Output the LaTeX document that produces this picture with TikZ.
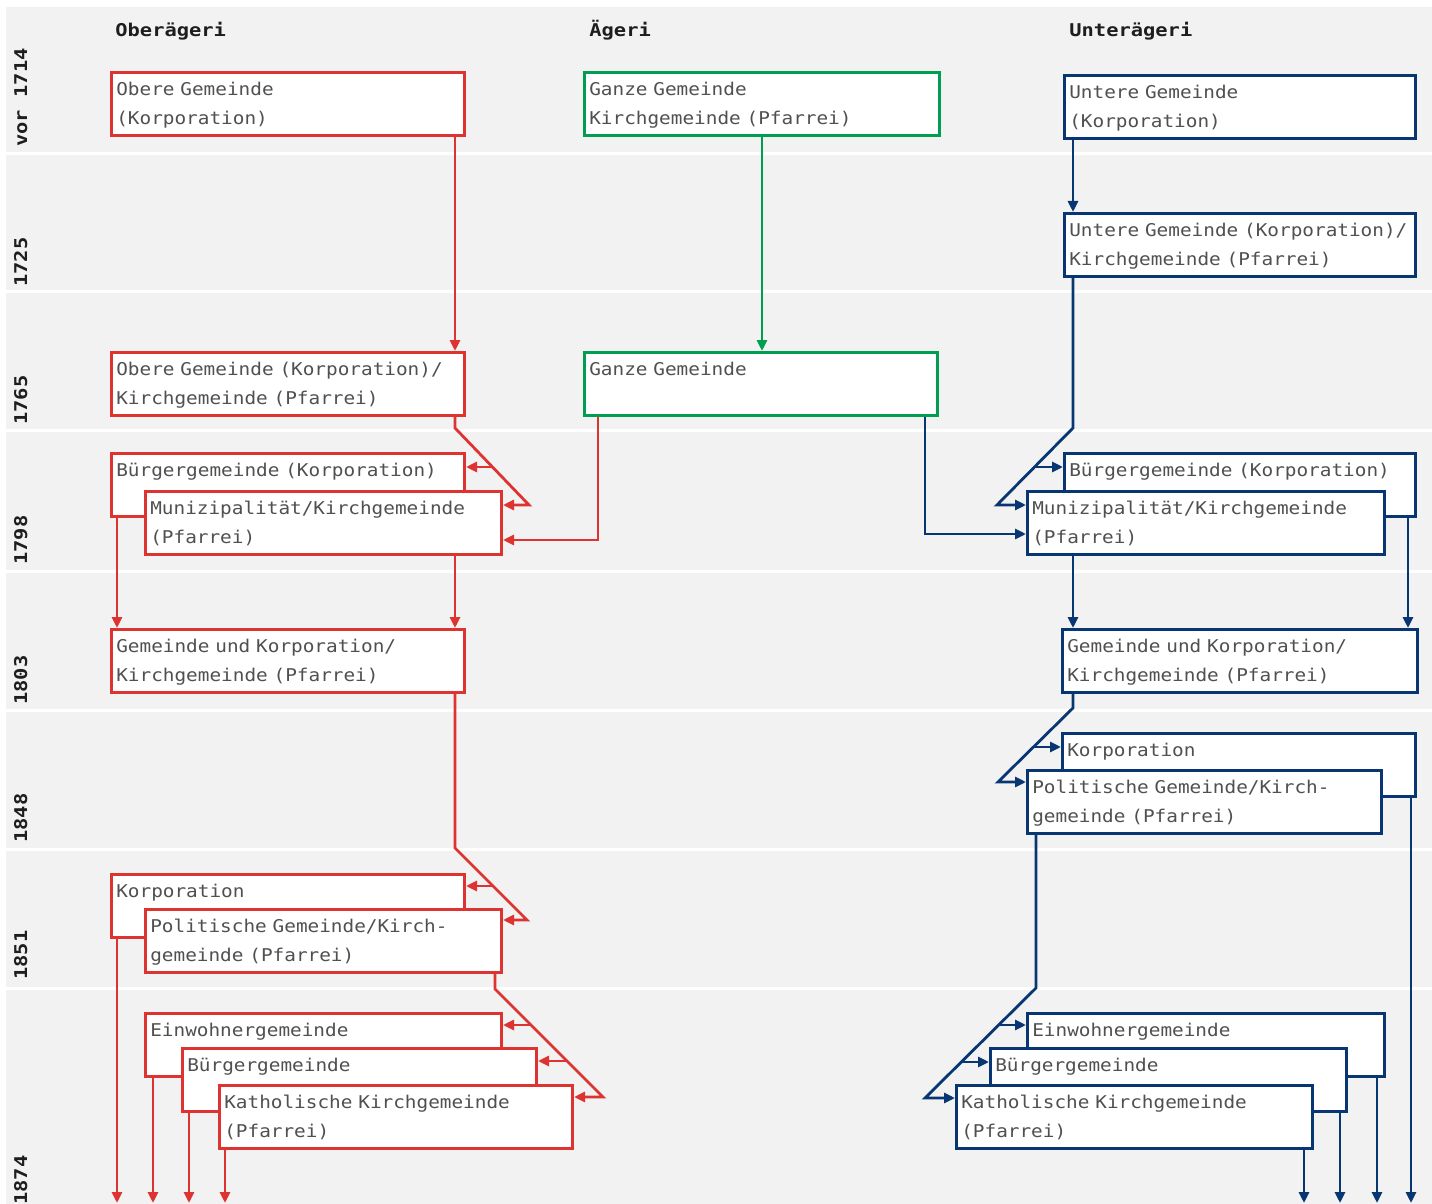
\documentclass[tikz,border=0pt]{standalone}
\usepackage{fontspec}
\usepackage{tikz}
\usetikzlibrary{arrows.meta}
\newfontfamily\boxfont[FakeStretch=1.1]{DejaVu Sans Mono}
\newfontfamily\labfont[FakeStretch=1.16]{DejaVu Sans Mono}
\definecolor{obred}{RGB}{221,52,50}
\definecolor{aegreen}{RGB}{0,158,80}
\definecolor{unblue}{RGB}{8,54,114}
\definecolor{bandgray}{RGB}{242,242,242}
\definecolor{textgray}{RGB}{80,80,80}
\definecolor{headgray}{RGB}{30,30,30}

\begin{document}
\begin{tikzpicture}[
    x=0.5pt, y=-0.5pt,
    box/.style={draw, fill=white, line width=1.3pt, anchor=north west,
      inner xsep=2.5pt, inner ysep=0pt, align=left,
      text width=#1*0.5pt-6.3pt, text height=11.6pt, text depth=20.1pt,
      font=\boxfont\fontsize{8.8}{14.5}\selectfont, text=textgray},
    box/.default=356,
    rbox/.style={box=#1, draw=obred}, rbox/.default=356,
    gbox/.style={box=#1, draw=aegreen}, gbox/.default=356,
    bbox/.style={box=#1, draw=unblue}, bbox/.default=356,
    head/.style={anchor=base west, inner sep=0pt, text=headgray,
      font=\labfont\bfseries\fontsize{8.8}{10}\selectfont},
    year/.style={head, rotate=90},
    arr/.style={-{Triangle[length=5.5pt,width=5pt]}},
    rline/.style={draw=obred, line width=1.4pt},
    gline/.style={draw=aegreen, line width=1.4pt},
    bline/.style={draw=unblue, line width=1.4pt}
  ]
    \useasboundingbox (0,0) rectangle (1432,1204);
    \foreach \a/\b in {7/152, 155/290, 293/429, 432/570, 573/709, 712/848, 851/987, 990/1204}
      \fill[bandgray] (6,\a) rectangle (1432,\b);

    \node[head] (hob) at (115,37) {Oberägeri};
    \node[head] (hae) at (589,37) {Ägeri};
    \node[head] (hun) at (1069,37) {Unterägeri};

    \node[year] (y1) at (27,147) {vor 1714};
    \node[year] (y2) at (27,287) {1725};
    \node[year] (y3) at (27,425) {1765};
    \node[year] (y4) at (27,565) {1798};
    \node[year] (y5) at (27,705) {1803};
    \node[year] (y6) at (27,843) {1848};
    \node[year] (y7) at (27,980) {1851};
    \node[year] (y8) at (27,1205) {1874};

    \node[rbox] (R1) at (110,71) {Obere Gemeinde\\(Korporation)};
    \node[gbox=358] (G1) at (583,71) {Ganze Gemeinde\\Kirchgemeinde (Pfarrei)};
    \node[bbox=354] (B1) at (1063,74) {Untere Gemeinde\\(Korporation)};
    \node[bbox=354] (B2) at (1063,212) {\mbox{Untere Gemeinde (Korporation)/}\\Kirchgemeinde (Pfarrei)};
    \node[rbox] (R2) at (110,351) {Obere Gemeinde (Korporation)/\\Kirchgemeinde (Pfarrei)};
    \node[gbox] (G2) at (583,351) {Ganze Gemeinde};
    \node[rbox] (R3) at (110,452) {Bürgergemeinde (Korporation)};
    \node[rbox=359] (R4) at (144,490) {Munizipalität/Kirchgemeinde\\(Pfarrei)};
    \node[bbox=354] (B3) at (1063,452) {Bürgergemeinde (Korporation)};
    \node[bbox=360] (B4) at (1026,490) {Munizipalität/Kirchgemeinde\\(Pfarrei)};
    \node[rbox] (R5) at (110,628) {Gemeinde und Korporation/\\Kirchgemeinde (Pfarrei)};
    \node[bbox=358] (B5) at (1061,628) {Gemeinde und Korporation/\\Kirchgemeinde (Pfarrei)};
    \node[bbox] (B6) at (1061,732) {Korporation};
    \node[bbox=357] (B7) at (1026,769) {Politische Gemeinde/Kirch-\\gemeinde (Pfarrei)};
    \node[rbox] (R6) at (110,873) {Korporation};
    \node[rbox=359] (R7) at (144,908) {Politische Gemeinde/Kirch-\\gemeinde (Pfarrei)};
    \node[rbox=359] (R8) at (144,1012) {Einwohnergemeinde};
    \node[rbox=357] (R9) at (181,1047) {Bürgergemeinde};
    \node[rbox] (R10) at (218,1084) {Katholische Kirchgemeinde\\(Pfarrei)};
    \node[bbox=360] (B8) at (1026,1012) {Einwohnergemeinde};
    \node[bbox=359] (B9) at (989,1047) {Bürgergemeinde};
    \node[bbox=359] (B10) at (955,1084) {Katholische Kirchgemeinde\\(Pfarrei)};

    \coordinate (rk1) at (455,428);
    \coordinate (rd1) at (529,505);
    \coordinate (rb1) at (493,467);
    \coordinate (gk1) at (598,540);
    \coordinate (rk2) at (455,848);
    \coordinate (rd2) at (527,920);
    \coordinate (rb2) at (493,886);
    \coordinate (rk3) at (495,989);
    \coordinate (rd3) at (603,1097);
    \coordinate (rb3) at (531,1025);
    \coordinate (rb4) at (567,1061);
    \coordinate (rx1) at (117,1203);
    \coordinate (rx2) at (153,1203);
    \coordinate (rx3) at (189,1203);
    \coordinate (rx4) at (225,1203);

    \coordinate (bk0) at (925,534);
    \coordinate (bk1) at (1073,428);
    \coordinate (bd1) at (997,505);
    \coordinate (bb1) at (1035,467);
    \coordinate (bx1) at (1408,628);
    \coordinate (bk2) at (1073,708);
    \coordinate (bd2) at (998,782);
    \coordinate (bb2) at (1034,747);
    \coordinate (bk3) at (1036,988);
    \coordinate (bd3) at (925,1098);
    \coordinate (bb3) at (999,1025);
    \coordinate (bb4) at (962,1062);
    \coordinate (bx2) at (1411,1203);
    \coordinate (bx3) at (1377,1203);
    \coordinate (bx4) at (1340,1203);
    \coordinate (bx5) at (1304,1203);

    \draw[rline, arr] (R1.south -| rk1) -- (R2.north -| rk1);
    \draw[rline, arr] (R2.south -| rk1) -- (rk1) -- (rd1) -- (rd1 -| R4.east);
    \draw[rline, arr] (rb1) -- (rb1 -| R3.east);
    \draw[rline, arr] (G2.south -| gk1) -- (gk1) -- (gk1 -| R4.east);
    \draw[rline, arr] (R3.south -| rx1) -- (R5.north -| rx1);
    \draw[rline, arr] (R4.south -| rk1) -- (R5.north -| rk1);
    \draw[rline, arr] (R5.south -| rk2) -- (rk2) -- (rd2) -- (rd2 -| R7.east);
    \draw[rline, arr] (rb2) -- (rb2 -| R6.east);
    \draw[rline, arr] (R6.south -| rx1) -- (rx1);
    \draw[rline, arr] (R7.south -| rk3) -- (rk3) -- (rd3) -- (rd3 -| R10.east);
    \draw[rline, arr] (rb3) -- (rb3 -| R8.east);
    \draw[rline, arr] (rb4) -- (rb4 -| R9.east);
    \draw[rline, arr] (R8.south -| rx2) -- (rx2);
    \draw[rline, arr] (R9.south -| rx3) -- (rx3);
    \draw[rline, arr] (R10.south -| rx4) -- (rx4);

    \draw[gline, arr] (G1.south) -- (G1.south |- G2.north);

    \draw[bline, arr] (G2.south -| bk0) -- (bk0) -- (bk0 -| B4.west);
    \draw[bline, arr] (B1.south -| bk1) -- (B2.north -| bk1);
    \draw[bline, arr] (B2.south -| bk1) -- (bk1) -- (bd1) -- (bd1 -| B4.west);
    \draw[bline, arr] (bb1) -- (bb1 -| B3.west);
    \draw[bline, arr] (B4.south -| bk1) -- (B5.north -| bk1);
    \draw[bline, arr] (B3.south -| bx1) -- (B5.north -| bx1);
    \draw[bline, arr] (B5.south -| bk2) -- (bk2) -- (bd2) -- (bd2 -| B7.west);
    \draw[bline, arr] (bb2) -- (bb2 -| B6.west);
    \draw[bline, arr] (B6.south -| bx2) -- (bx2);
    \draw[bline, arr] (B7.south -| bk3) -- (bk3) -- (bd3) -- (bd3 -| B10.west);
    \draw[bline, arr] (bb3) -- (bb3 -| B8.west);
    \draw[bline, arr] (bb4) -- (bb4 -| B9.west);
    \draw[bline, arr] (B8.south -| bx3) -- (bx3);
    \draw[bline, arr] (B9.south -| bx4) -- (bx4);
    \draw[bline, arr] (B10.south -| bx5) -- (bx5);
  \end{tikzpicture}
\end{document}
